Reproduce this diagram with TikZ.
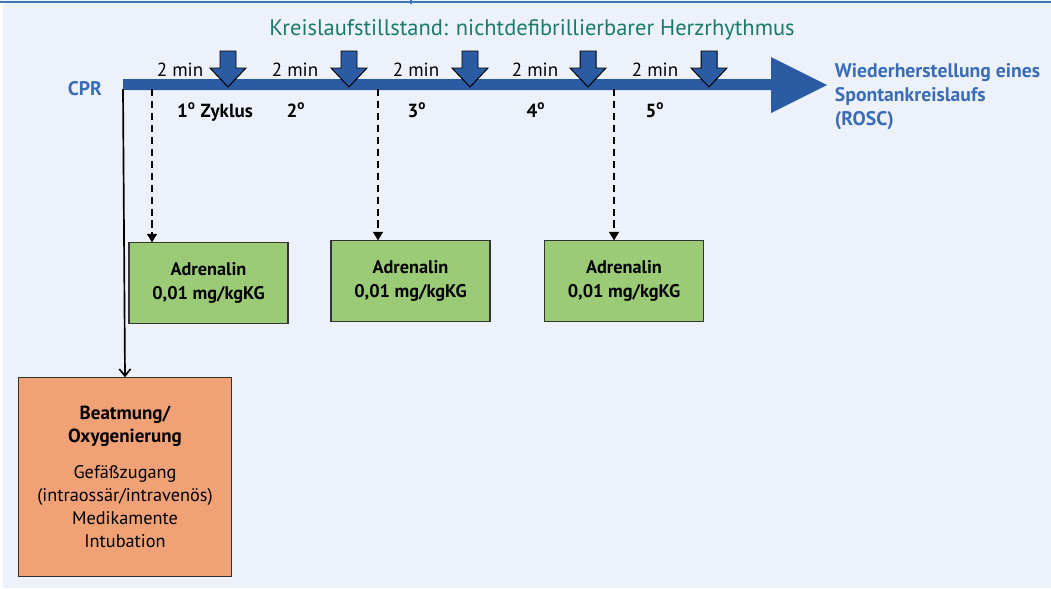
\documentclass[tikz,border=0pt]{standalone}
\usepackage{fontspec}
\setmainfont{PT Sans}
\usetikzlibrary{positioning}
\usetikzlibrary{arrows.meta}

\definecolor{bgblue}{HTML}{EDF2FA}
\definecolor{rimblue}{HTML}{3D78B4}
\definecolor{barblue}{HTML}{2B5BA3}
\definecolor{cprblue}{HTML}{3A6DB5}
\definecolor{titlegreen}{HTML}{1B7A6C}
\definecolor{drugfill}{HTML}{9BCB77}
\definecolor{ventfill}{HTML}{F0A276}

\tikzset{
 drugbox/.style={draw=black!80,fill=drugfill,line width=0.8pt,minimum width=113pt,minimum height=57pt,align=center,font=\fontsize{13}{17.5}\selectfont\bfseries},
 ventbox/.style={draw=black!80,fill=ventfill,line width=0.8pt,minimum width=152pt,minimum height=141pt,align=center,font=\fontsize{13}{16.5}\selectfont},
 minlabel/.style={anchor=base,font=\fontsize{13.5}{15}\selectfont},
 cyclabel/.style={anchor=base,font=\fontsize{13.5}{15}\selectfont\bfseries},
 shockarrow/.style={fill=barblue,draw=black,line width=0.7pt,line join=miter},
 dosearrow/.style={draw=black,line width=1pt,dash pattern=on 5pt off 3.5pt,-{Triangle[length=6pt,width=7pt]}},
 cprline/.style={draw=black,line width=1.2pt,-{Straight Barb[length=5pt,width=8pt]}}
}

\begin{document}
\begin{tikzpicture}[x=0.025cm,y=-0.025cm]
 \useasboundingbox (0,0) rectangle (1051,588);
 \fill[bgblue] (0,0) rectangle (1051,588);
 \fill[white] (0,3) rectangle (3,588);
 \draw[rimblue,line width=1.4pt] (0,2) -- (1051,2);
 \draw[rimblue,line width=0.8pt] (411,0) -- (411,4);

 \node[anchor=base,text=titlegreen,font=\fontsize{16}{18}\selectfont] (title) at (532,35) {Kreislaufstillstand: nichtdefibrillierbarer Herzrhythmus};

 \fill[barblue] (123,79) -- (771,79) -- (771,57) -- (827,85) -- (771,113) -- (771,90) -- (123,90) -- cycle;
 \coordinate (cpr) at (123,89);
 \node[anchor=base east,text=cprblue,font=\fontsize{14}{16}\selectfont\bfseries] (cprlabel) at (107,95) {CPR};
 \node[anchor=north west,text=cprblue,align=left,font=\fontsize{14}{17}\selectfont\bfseries] (rosc) at (830,59) {Wiederherstellung eines\\ Spontankreislaufs\\(ROSC)};

 \foreach \x in {228,349,470,588,709}
  \draw[shockarrow] (\x-8,51) -- (\x+8,51) -- (\x+8,68) -- (\x+18,68) -- (\x,87) -- (\x-18,68) -- (\x-8,68) -- cycle;
 \foreach \x [count=\i] in {180,295,416,535,655}
  \node[minlabel] (min\i) at (\x,76) {2 min};

 \node[cyclabel] (cyc1) at (215,117) {1\textsuperscript{o} Zyklus};
 \node[cyclabel] (cyc2) at (296,117) {2\textsuperscript{o}};
 \node[cyclabel] (cyc3) at (417,117) {3\textsuperscript{o}};
 \node[cyclabel] (cyc4) at (536,117) {4\textsuperscript{o}};
 \node[cyclabel] (cyc5) at (655,117) {5\textsuperscript{o}};

 \node[drugbox] (adr1) at (208.5,283) {Adrenalin\\0,01 mg/kgKG};
 \node[drugbox] (adr2) at (410.5,281) {Adrenalin\\0,01 mg/kgKG};
 \node[drugbox] (adr3) at (624,281) {Adrenalin\\0,01 mg/kgKG};

 \coordinate (dose1) at (152,89);
 \coordinate (dose2) at (378,89);
 \coordinate (dose3) at (614,89);
 \draw[dosearrow] (dose1) -- (dose1 |- adr1.north);
 \draw[dosearrow] (dose2) -- (dose2 |- adr2.north);
 \draw[dosearrow] (dose3) -- (dose3 |- adr3.north);

 \node[ventbox] (vent) at (125,477) {{\fontsize{13.5}{16}\selectfont\bfseries Beatmung/}\\{\fontsize{13.5}{16}\selectfont\bfseries Oxygenierung}\\[9pt]Gefäßzugang\\(intraossär/intravenös)\\Medikamente\\Intubation};
 \draw[cprline] (cpr) -- (vent.north);
\end{tikzpicture}
\end{document}
